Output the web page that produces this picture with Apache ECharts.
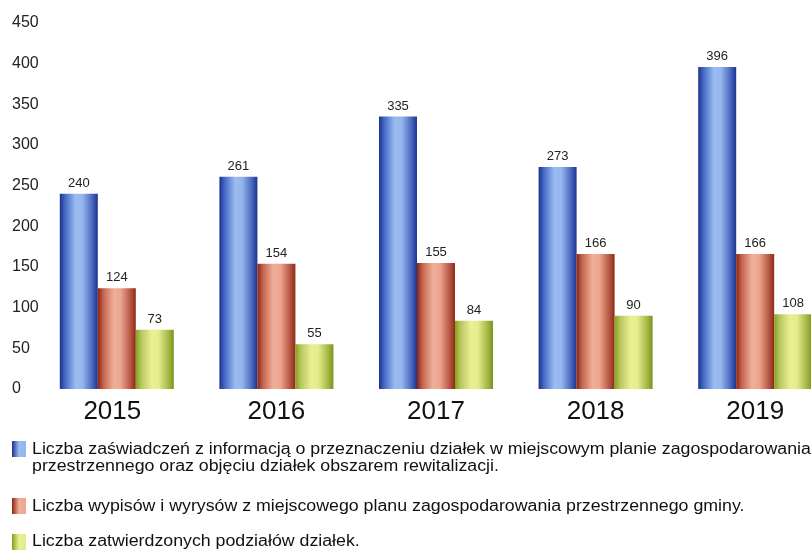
<!DOCTYPE html>
<html>
<head>
<meta charset="utf-8">
<script src="https://cdn.jsdelivr.net/npm/echarts@6/dist/echarts.min.js"></script>
<style>
  html, body { margin: 0; padding: 0; background: #fff; overflow: hidden; }
  /* the last bar group runs past the right edge of the picture */
  #chart { width: 835px; height: 553px; }
</style>
</head>
<body>
<div id="chart"></div>
<script>
const years = ['2015', '2016', '2017', '2018', '2019'];
const yTicks = [0, 50, 100, 150, 200, 250, 300, 350, 400, 450];

// printed values
const certificates = [240, 261, 335, 273, 396];
const extracts = [124, 154, 155, 166, 166];
const divisions = [73, 55, 84, 90, 108];
// drawn bar heights of the last series (the 2019 bar is drawn lower than its label)
const divisionsHeight = [73, 55, 84, 90, 92];

const names = [
  'Liczba zaświadczeń z informacją o przeznaczeniu działek w miejscowym planie zagospodarowania\nprzestrzennego oraz objęciu działek obszarem rewitalizacji.',
  'Liczba wypisów i wyrysów z miejscowego planu zagospodarowania przestrzennego gminy.',
  'Liczba zatwierdzonych podziałów działek.'
];

const font = '"Liberation Sans", Arial, sans-serif';

const grad = (stops) => new echarts.graphic.LinearGradient(0, 0, 1, 0,
  stops.map((c, i) => ({ offset: [0, 0.15, 0.42, 0.6, 0.85, 1][i], color: c })));

const blue = ['#1a3190', '#4a6dc8', '#9bbcf0', '#95b5ec', '#4a68c0', '#1c338f'];
const red = ['#8e2412', '#c56650', '#f0ae98', '#eca690', '#b85a45', '#8e2a16'];
const green = ['#86a020', '#b8c860', '#e8f094', '#e4ec8c', '#a8b848', '#7a9418'];

const myChart = echarts.init(document.getElementById('chart'), null, { renderer: 'canvas' });

const label = (vals) => ({
  show: true,
  position: 'top',
  distance: 4,
  fontSize: 13,
  fontFamily: font,
  color: '#222',
  formatter: (p) => vals[p.dataIndex]
});

// legend drawn by hand: the marker sits on the first line of a wrapped entry
const markerTop = [441, 498, 534];
const textTop = [441, 498, 533];
const legendGraphics = [];
[blue, red, green].forEach((c, i) => {
  legendGraphics.push({
    type: 'rect',
    left: 12, top: markerTop[i],
    shape: { width: 14, height: 16 },
    style: { fill: new echarts.graphic.LinearGradient(0, 0, 1, 0, [
      { offset: 0, color: c[0] }, { offset: 0.5, color: c[2] }, { offset: 1, color: c[3] }
    ]) }
  });
  legendGraphics.push({
    type: 'text',
    x: 32, y: textTop[i],
    scaleX: 1.11,
    style: {
      text: names[i],
      fontSize: 16,
      lineHeight: 17,
      fontFamily: font,
      fill: '#111'
    }
  });
});

// first year label sits a little left of its group in the original
const yearData = years.map((y, i) => i === 0 ? { value: y, textStyle: { padding: [0, 9, 0, 0] } } : y);

const option = {
  animation: false,
  grid: { left: 37, right: 0, top: 23, bottom: 164, containLabel: false },
  xAxis: {
    type: 'category',
    data: yearData,
    axisLine: { show: false },
    axisTick: { show: false },
    axisLabel: { fontSize: 26, fontFamily: font, color: '#111', margin: 10 }
  },
  yAxis: {
    type: 'value',
    min: yTicks[0],
    max: yTicks[yTicks.length - 1],
    interval: 50,
    splitLine: { show: false },
    axisLine: { show: false },
    axisTick: { show: false },
    axisLabel: { fontSize: 16, fontFamily: font, color: '#222', align: 'left', margin: 25 }
  },
  series: [
    {
      name: names[0], type: 'bar', data: certificates, barWidth: 38, barGap: '0%',
      itemStyle: { color: grad(blue) }, label: label(certificates)
    },
    {
      name: names[1], type: 'bar', data: extracts, barWidth: 38, barGap: '0%',
      itemStyle: { color: grad(red) }, label: label(extracts)
    },
    {
      name: names[2], type: 'bar', data: divisionsHeight, barWidth: 38, barGap: '0%',
      itemStyle: { color: grad(green) }, label: label(divisions)
    }
  ],
  graphic: legendGraphics
};

myChart.setOption(option);
</script>
</body>
</html>
